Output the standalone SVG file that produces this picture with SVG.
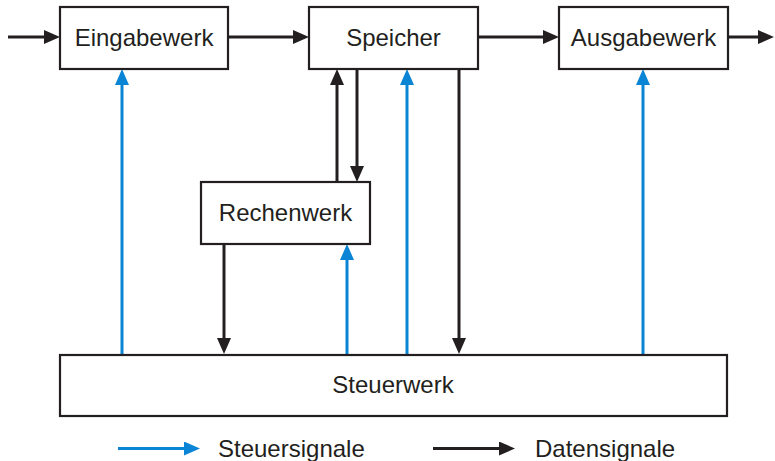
<svg xmlns="http://www.w3.org/2000/svg" width="775" height="461" viewBox="0 0 775 461">
  <style>
    .box { fill: #ffffff; stroke: #231f20; stroke-width: 2.2; }
    .lbl { font-family: "Liberation Sans", Arial, Helvetica, sans-serif; font-size: 24px; fill: #231f20; text-anchor: middle; }
    .leg { font-family: "Liberation Sans", Arial, Helvetica, sans-serif; font-size: 24px; fill: #231f20; }
    .data { fill: none; stroke: #231f20; stroke-width: 3; marker-end: url(#headData); }
    .ctrl { fill: none; stroke: #0a85d6; stroke-width: 3; marker-end: url(#headCtrl); }
  </style>
  <defs>
    <marker id="headData" markerUnits="userSpaceOnUse" markerWidth="16" markerHeight="14" refX="8" refY="7" orient="auto">
      <path d="M0,0 L16,7 L0,14 Z" fill="#231f20"/>
    </marker>
    <marker id="headCtrl" markerUnits="userSpaceOnUse" markerWidth="16" markerHeight="14" refX="8" refY="7" orient="auto">
      <path d="M0,0 L16,7 L0,14 Z" fill="#0a85d6"/>
    </marker>
  </defs>

  <rect width="775" height="461" fill="#ffffff"/>

  <g id="connectors">
    <!-- data paths -->
    <path class="data" d="M8,37 H52"/>
    <path class="data" d="M228,37 H301"/>
    <path class="data" d="M478,37 H551"/>
    <path class="data" d="M728,37 H766"/>
    <path class="data" d="M337,182 V77"/>
    <path class="data" d="M357,69 V174"/>
    <path class="data" d="M459,69 V346"/>
    <path class="data" d="M224,244 V346"/>
    <!-- control paths -->
    <path class="ctrl" d="M122,354 V77"/>
    <path class="ctrl" d="M407,354 V77"/>
    <path class="ctrl" d="M643,354 V77"/>
    <path class="ctrl" d="M347,354 V252"/>
  </g>

  <g id="eingabewerk">
    <rect class="box" x="60" y="7" width="168" height="62"/>
    <text class="lbl" x="144" y="46">Eingabewerk</text>
  </g>
  <g id="speicher">
    <rect class="box" x="309" y="7" width="169" height="62"/>
    <text class="lbl" x="393.5" y="46">Speicher</text>
  </g>
  <g id="ausgabewerk">
    <rect class="box" x="559" y="7" width="169" height="62"/>
    <text class="lbl" x="643.5" y="46">Ausgabewerk</text>
  </g>
  <g id="rechenwerk">
    <rect class="box" x="201" y="182" width="169" height="62"/>
    <text class="lbl" x="285.5" y="221">Rechenwerk</text>
  </g>
  <g id="steuerwerk">
    <rect class="box" x="60" y="355" width="667" height="61"/>
    <text class="lbl" x="393" y="393">Steuerwerk</text>
  </g>

  <g id="legend">
    <path class="ctrl" d="M118,448.5 H192"/>
    <text class="leg" x="218" y="457">Steuersignale</text>
    <path class="data" d="M433,448.5 H507"/>
    <text class="leg" x="535" y="457">Datensignale</text>
  </g>
</svg>
